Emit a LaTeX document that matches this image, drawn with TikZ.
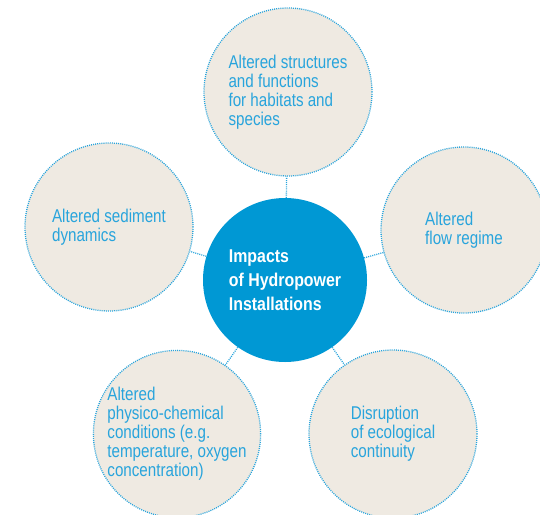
\documentclass[tikz,border=0pt]{standalone}
\usepackage{fontspec}
\setmainfont[FakeStretch=0.82]{Liberation Sans}
\newfontfamily\hubfont[FakeStretch=0.86]{Liberation Sans}
\definecolor{hydroblue}{HTML}{0098D4}
\definecolor{impacttext}{HTML}{28A4DC}
\definecolor{impactfill}{HTML}{EFEAE2}
\begin{document}
\begin{tikzpicture}[x=1pt,y=-1pt,
  impact/.style={circle, fill=impactfill, draw=impacttext, line width=1.3pt,
    dash pattern=on 1pt off 1.1pt, minimum size=168pt, inner sep=0pt,
    text=impacttext, align=left, font=\fontsize{18.5}{19}\selectfont},
  hub/.style={circle, fill=hydroblue, minimum size=164pt, inner sep=0pt,
    text=white, align=left, font=\hubfont\fontsize{18.5}{24}\selectfont\bfseries},
  link/.style={draw=impacttext, line width=1.3pt, dash pattern=on 1pt off 1.1pt}]
\useasboundingbox (0,0) rectangle (540,514);
% centre
\node[hub] (hub) at (285,280) {Impacts\\of Hydropower\\Installations};
% the five impacts
\node[impact] (habitats) at (288,92) {Altered structures\\and functions\\for habitats and\\species};
\node[impact] (sediment) at (109,227) {Altered sediment\\dynamics};
\node[impact, minimum size=166pt] (flow) at (464,230) {Altered\\flow regime};
\node[impact, minimum size=166pt] (physchem) at (177,434) {Altered\\physico-chemical\\conditions (e.g.\\temperature, oxygen\\concentration)};
\node[impact] (continuity) at (393,434) {Disruption\\of ecological\\continuity};
% links
\draw[link] (hub) -- (habitats);
\draw[link] (hub) -- (sediment);
\draw[link] (hub) -- (flow);
\draw[link] (hub) -- (physchem);
\draw[link] (hub) -- (continuity);
\end{tikzpicture}
\end{document}
